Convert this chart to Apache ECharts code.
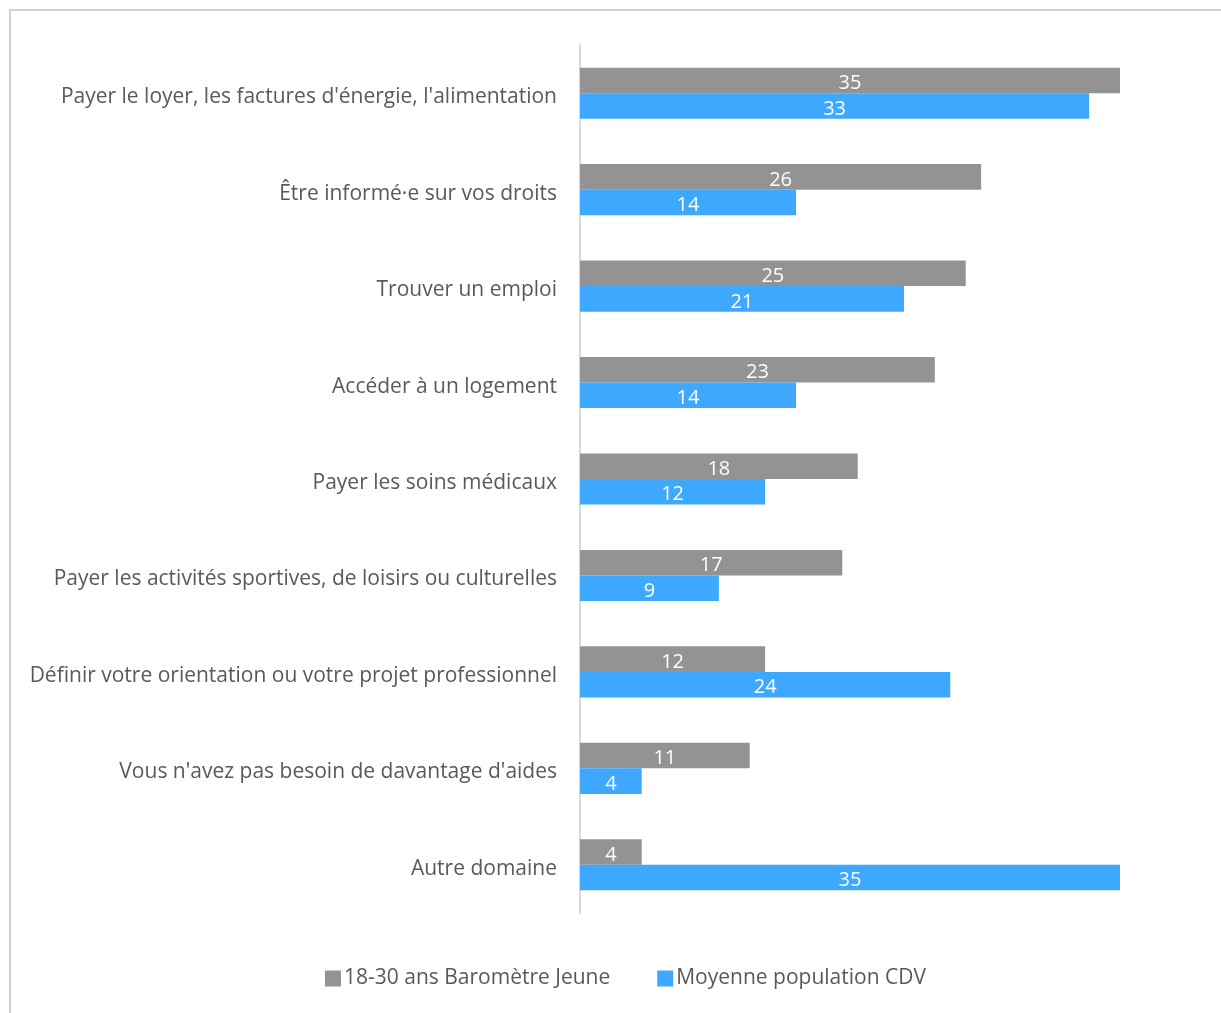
<!DOCTYPE html>
<html>
<head>
<meta charset="utf-8">
<script src="https://cdn.jsdelivr.net/npm/echarts@6/dist/echarts.min.js"></script>
<style>
html,body{margin:0;padding:0;background:#fff;}
#c{width:1221px;height:1013px;}
</style>
</head>
<body>
<div id="c"></div>
<script>
const categories = [
  "Payer le loyer, les factures d'énergie, l'alimentation",
  "Être informé·e sur vos droits",
  "Trouver un emploi",
  "Accéder à un logement",
  "Payer les soins médicaux",
  "Payer les activités sportives, de loisirs ou culturelles",
  "Définir votre orientation ou votre projet professionnel",
  "Vous n'avez pas besoin de davantage d'aides",
  "Autre domaine"
];
const seriesNames = ["18-30 ans Baromètre Jeune", "Moyenne population CDV"];
const jeunes = [35, 26, 25, 23, 18, 17, 12, 11, 4];
const cdv = [33, 14, 21, 14, 12, 9, 24, 4, 35];

const font = "'Open Sans', 'Noto Sans', sans-serif";
const chart = echarts.init(document.getElementById('c'), null, {renderer: 'canvas'});
const labelStyle = {show: true, position: 'inside', offset: [0, 3], color: '#ffffff', fontSize: 20, fontFamily: font};
chart.setOption({
  animation: false,
  backgroundColor: '#ffffff',
  graphic: [{
    type: 'rect', silent: true, z: -1,
    shape: {x: 10, y: 10, width: 1400, height: 1200},
    style: {fill: 'none', stroke: '#d0d0d0', lineWidth: 2}
  }],
  grid: {left: 580, right: 101, top: 45, bottom: 100, containLabel: false},
  xAxis: {
    type: 'value', min: 0, max: 35,
    show: false
  },
  yAxis: {
    type: 'category', data: categories, inverse: true,
    axisLine: {show: true, lineStyle: {color: '#d9d9d9', width: 2}},
    axisTick: {show: false},
    axisLabel: {color: '#595959', fontSize: 21, fontFamily: font, margin: 23,
                verticalAlign: 'top', lineHeight: 8}
  },
  legend: {
    bottom: 19, left: 320,
    itemWidth: 16, itemHeight: 16, itemGap: 47,
    icon: 'rect',
    textStyle: {color: '#595959', fontSize: 21, fontFamily: font, padding: [2, 0, 0, -2]},
    data: seriesNames
  },
  series: [
    {name: seriesNames[0], type: 'bar', data: jeunes, barGap: '0%', barCategoryGap: '47%',
     itemStyle: {color: '#939393'}, label: labelStyle},
    {name: seriesNames[1], type: 'bar', data: cdv, barGap: '0%', barCategoryGap: '47%',
     itemStyle: {color: '#3ea8fe'}, label: labelStyle}
  ]
});
</script>
</body>
</html>
